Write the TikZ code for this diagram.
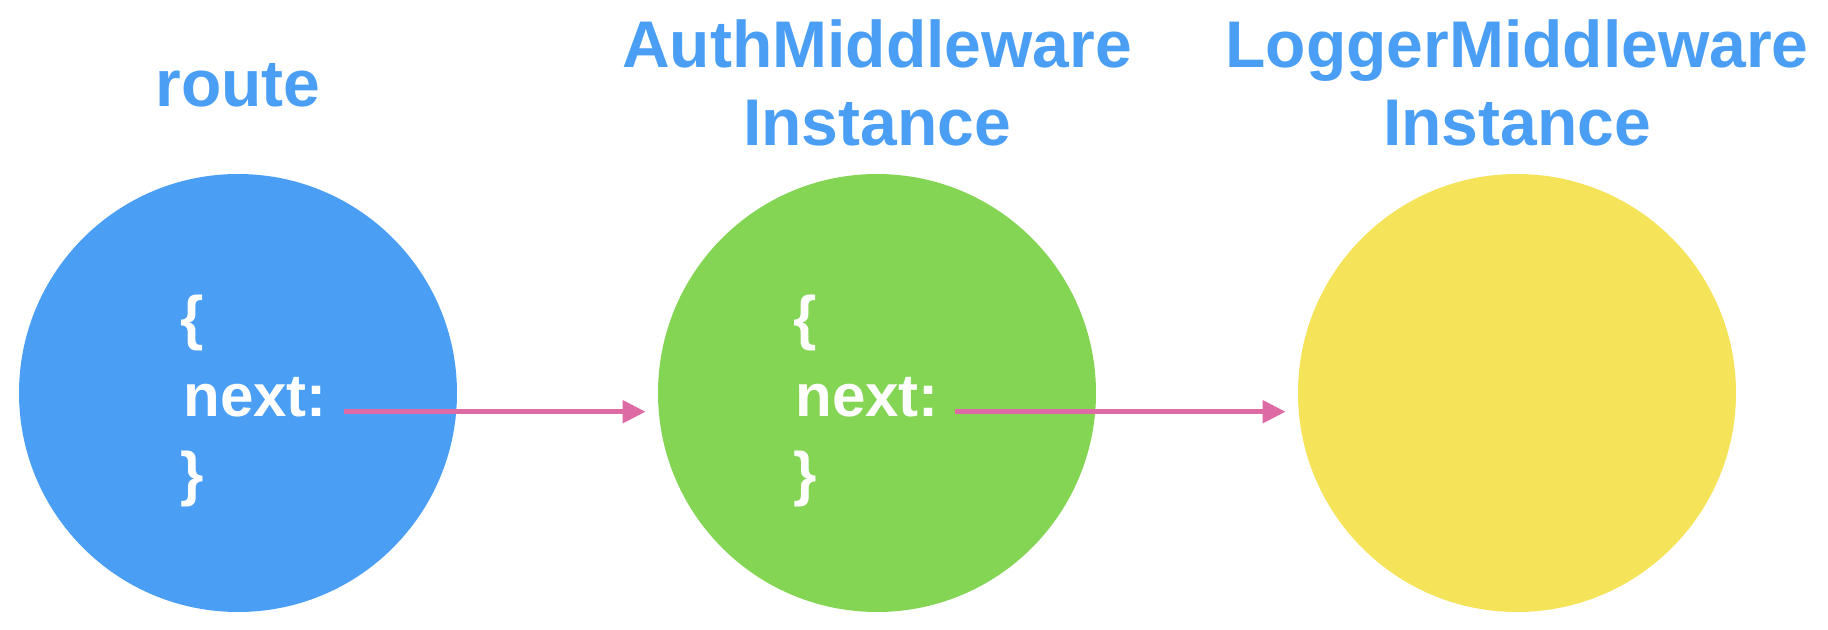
\documentclass[tikz,border=0pt]{standalone}
\usepackage{fontspec}
\setmainfont{Liberation Sans}
\usetikzlibrary{arrows.meta}
\definecolor{routeblue}{RGB}{74,159,245}
\definecolor{authgreen}{RGB}{133,213,85}
\definecolor{loggeryellow}{RGB}{245,227,90}
\definecolor{linkpink}{RGB}{221,106,165}
\begin{document}
\begin{tikzpicture}
            [x=0.5pt,y=-0.5pt,
             circ/.style={circle,minimum size=219pt,inner sep=0pt},
             title/.style={text=routeblue,font=\fontsize{33}{39}\selectfont\bfseries,align=center,inner sep=0pt,anchor=base},
             body/.style={text=white,font=\fontsize{30}{39}\selectfont\bfseries,inner sep=0pt,anchor=base west},
             link/.style={-{Triangle[length=11.5pt,width=11pt]},linkpink,line width=2.5pt,shorten >=6pt}]
            \useasboundingbox (0,0) rectangle (1828,630);
            \node[circ,fill=routeblue] (route) at (238,393) {};
            \node[circ,fill=authgreen] (auth) at (877,393) {};
            \node[circ,fill=loggeryellow] (logger) at (1517,393) {};
            
            \node[title] (routeTitle) at (238,107) {route};
            \node[title] (authTitle) at (877,146) {AuthMiddleware\\Instance};
            \node[title] (loggerTitle) at (1517,146) {LoggerMiddleware\\Instance};
            
            \node[body] (routeOpen) at (180,339) {\{};
            \node[body] (routeNext) at (183,417) {next:};
            \node[body] (routeClose) at (180,495) {\}};
            \node[body] (authOpen) at (793,339) {\{};
            \node[body] (authNext) at (795,417) {next:};
            \node[body] (authClose) at (793,495) {\}};
            
            \draw [link] ([xshift=8.5pt]routeNext.mid east) -- (routeNext.mid east -| auth.west);
            \draw [link] ([xshift=8pt]authNext.mid east) -- (authNext.mid east -| logger.west);
        \end{tikzpicture}
\end{document}
